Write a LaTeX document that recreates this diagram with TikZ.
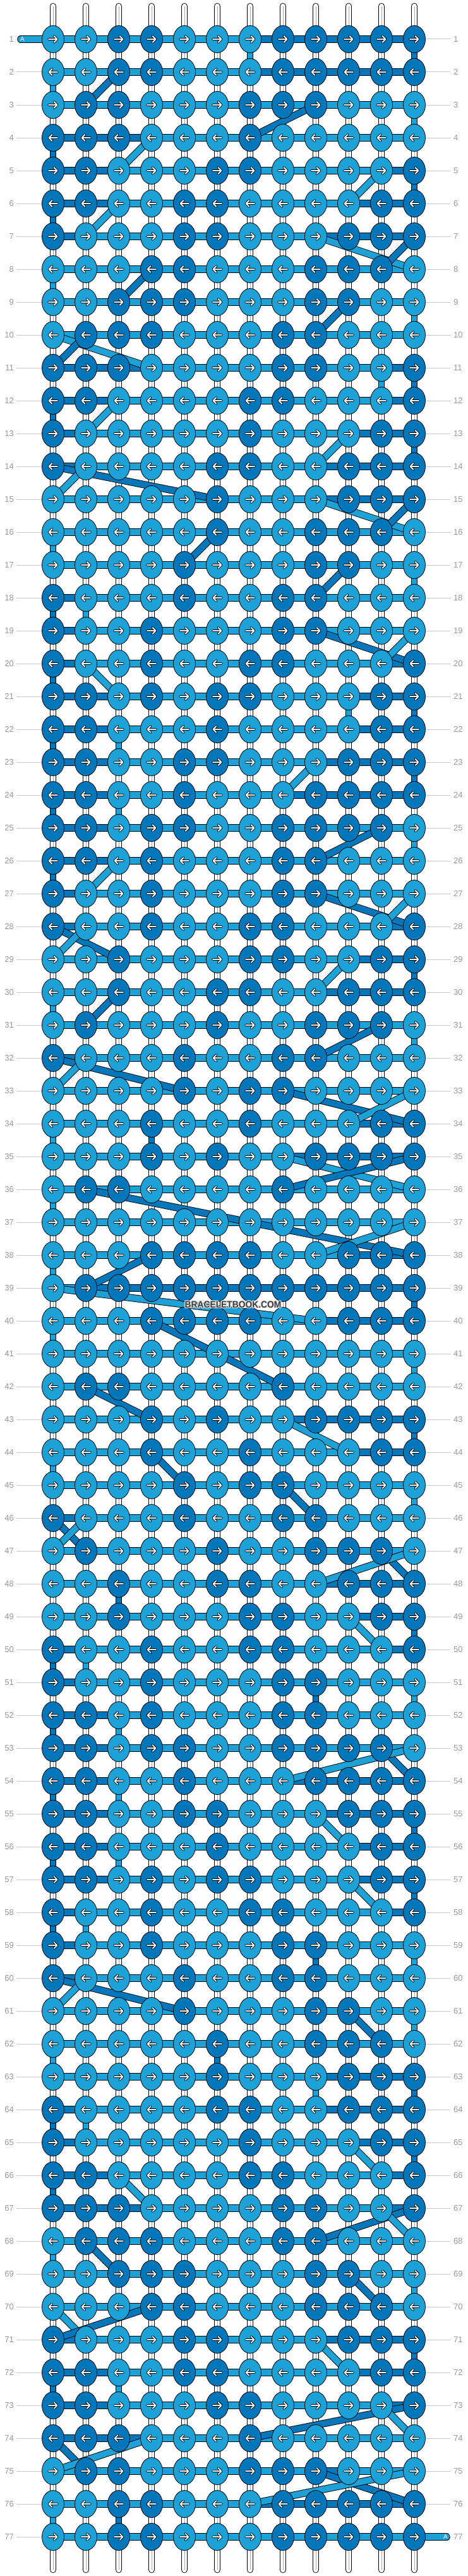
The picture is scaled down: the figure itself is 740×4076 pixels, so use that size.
\documentclass[tikz,border=0pt]{standalone}
\usepackage{fontspec}
\setmainfont{Liberation Sans}
\usetikzlibrary{shapes.geometric}
\definecolor{cL}{HTML}{1DA2D8}
\definecolor{cD}{HTML}{0077BB}
\definecolor{labgray}{HTML}{9A9A9A}
\definecolor{linegray}{HTML}{C8C8C8}
\definecolor{midgray}{HTML}{A8A8A8}
\definecolor{wmgray}{HTML}{3C3C3C}
\pgfdeclarelayer{bg}\pgfdeclarelayer{lv}\pgfdeclarelayer{lh}\pgfdeclarelayer{ld}\pgfdeclarelayer{front}
\pgfsetlayers{bg,lv,lh,ld,main,front}
\tikzset{
 knot/.style={ellipse, draw=black, line width=0.8pt, minimum width=35pt, minimum height=43pt, inner sep=0pt},
 arrb/.style={draw=black, line width=3.6pt, line cap=round, line join=round},
 arrw/.style={draw=white, line width=1.8pt, line cap=round, line join=round},
 vb/.style={draw=black, line width=10pt},
 vw/.style={draw=white, line width=8.2pt},
 vm/.style={draw=midgray, line width=0.6pt},
 vc/.style={line width=8.2pt},
 sb/.style={draw=black, line width=10.5pt, line cap=round},
 sw/.style={draw=white, line width=8.7pt, line cap=round},
 barb/.style={draw=black, line width=11.5pt},
 barc/.style={line width=9.7pt},
 diagb/.style={draw=black, line width=11.5pt},
 diagc/.style={line width=9.7pt},
 leadb/.style={draw=black, line width=11.5pt, line cap=round},
 leadc/.style={draw=cL, line width=9.7pt, line cap=round},
 lab/.style={text=labgray, font=\fontsize{13}{13}\selectfont, inner sep=0pt},
 labline/.style={draw=linegray, line width=1pt},
 wm/.style={font=\bfseries\fontsize{15}{15}\selectfont, xscale=0.92, inner sep=0pt},
}
\newcount\kcnt
\makeatletter
\def\placeknot#1#2#3{%
 \pgfmathsetmacro\kx{84+52*(#2-1)}%
 \pgfmathsetmacro\ky{62+52*(#1-1)}%
 \node[knot, fill=c#3] (k-#1-#2) at (\kx,\ky) {};%
 \ifodd#1\relax
  \draw[arrb,shift={(\kx,\ky)}] (-7,0)--(6,0) (1.5,-5)--(6.5,0)--(1.5,5);%
  \draw[arrw,shift={(\kx,\ky)}] (-7,0)--(6,0) (1.5,-5)--(6.5,0)--(1.5,5);%
 \else
  \draw[arrb,shift={(\kx,\ky)}] (7,0)--(-6,0) (-1.5,-5)--(-6.5,0)--(-1.5,5);%
  \draw[arrw,shift={(\kx,\ky)}] (7,0)--(-6,0) (-1.5,-5)--(-6.5,0)--(-1.5,5);%
 \fi}
\def\KnotRow#1#2{\kcnt=0 \@tfor\ch:=#2\do{\advance\kcnt by 1 \edef\tmp{\noexpand\placeknot{#1}{\the\kcnt}{\ch}}\tmp}}
\def\placebar#1#2#3#4{\draw[barb] (k-#1-#2.center)--(k-#1-#3.center);\draw[barc,draw=c#4] (k-#1-#2.center)--(k-#1-#3.center);}
\def\BarRow#1#2{\kcnt=0 \@tfor\ch:=#2\do{\advance\kcnt by 1 \edef\tmp{\noexpand\placebar{#1}{\the\kcnt}{\the\numexpr\kcnt+1\relax}{\ch}}\tmp}}
\def\placevert#1#2#3#4{\if#4W\draw[vb] (k-#1-#3.center)--(k-#2-#3.center);\draw[vw] (k-#1-#3.center)--(k-#2-#3.center);\draw[vm] (k-#1-#3.center)--(k-#2-#3.center);\else\draw[vb] (k-#1-#3.center)--(k-#2-#3.center);\draw[vc,draw=c#4] (k-#1-#3.center)--(k-#2-#3.center);\fi}
\def\VertRow#1#2{\kcnt=0 \@tfor\ch:=#2\do{\advance\kcnt by 1 \edef\tmp{\noexpand\placevert{#1}{\the\numexpr#1+1\relax}{\the\kcnt}{\ch}}\tmp}}
\def\BV#1#2#3{\begin{pgfonlayer}{lh}\BarRow{#1}{#2}\end{pgfonlayer}\begin{pgfonlayer}{lv}\VertRow{#1}{#3}\end{pgfonlayer}}
\def\Dg#1#2#3#4#5{\draw[diagb] (k-#1-#2.center)--(k-#3-#4.center);\draw[diagc,draw=c#5] (k-#1-#2.center)--(k-#3-#4.center);}
\def\Dgg#1#2#3#4#5#6#7{\draw[diagb,line join=round] (k-#1-#2.center)--(k-#3-#4.center)--(k-#5-#6.center);\draw[diagc,line join=round,draw=c#7] (k-#1-#2.center)--(k-#3-#4.center)--(k-#5-#6.center);}
\makeatother
\begin{document}
\begin{tikzpicture}[x=1pt,y=-1pt]
\useasboundingbox (0,0) rectangle (740,4076);
\begin{pgfonlayer}{bg}\fill[white] (0,0) rectangle (740,4076);\end{pgfonlayer}
% ---------------- knots ----------------
\KnotRow{1}{LLDDLLLDDDDD}
\KnotRow{2}{LLDDLLLDDDDD}
\KnotRow{3}{LDDLLLDDDLLL}
\KnotRow{4}{DDDLLLDLLLLL}
\KnotRow{5}{DDLLLDDLLLLD}
\KnotRow{6}{DDLLDDLLLLDD}
\KnotRow{7}{DLLLDDLLLDDD}
\KnotRow{8}{LLLDDLLLDDDL}
\KnotRow{9}{LLDDDLLLDDLL}
\KnotRow{10}{LDDDLLLDDLLL}
\KnotRow{11}{DDDLLLLDDLLD}
\KnotRow{12}{DDLLLLDDLLLD}
\KnotRow{13}{DLLLLLDLLLDD}
\KnotRow{14}{DLLLLDDLLDDD}
\KnotRow{15}{LLLLLDLLLDDD}
\KnotRow{16}{LLLLLDLLDDDL}
\KnotRow{17}{LLLLDLLLDDLL}
\KnotRow{18}{DLLLDLLDDLLL}
\KnotRow{19}{DLLDLLLDDLLL}
\KnotRow{20}{DLLDLLDDLLLD}
\KnotRow{21}{DDLDLDDLLLDD}
\KnotRow{22}{DDLLLDLLLLDD}
\KnotRow{23}{DDLLDDLLLDDD}
\KnotRow{24}{DDLLDLLLDDDD}
\KnotRow{25}{DDLDDLLDDDDL}
\KnotRow{26}{DDLDLLLDDLLL}
\KnotRow{27}{DLLDLLLDDLLL}
\KnotRow{28}{DLLDLLDDLLLD}
\KnotRow{29}{LLDLLLDDLLDD}
\KnotRow{30}{LLDLLDDLLDDD}
\KnotRow{31}{LDLLLDLLDDDL}
\KnotRow{32}{DLLLDLLDDLLL}
\KnotRow{33}{LLLLDLDDLLLL}
\KnotRow{34}{LLLDLLDLLLDD}
\KnotRow{35}{LLLDLDLLDDDD}
\KnotRow{36}{LDDLLLLDLLLL}
\KnotRow{37}{LLLLLLLLLLLL}
\KnotRow{38}{LLLDDDDLLDDD}
\KnotRow{39}{LDDDDDDDDDDD}
\KnotRow{40}{LLLDDDDLLDDD}
\KnotRow{41}{LLLLLLLLLLLL}
\KnotRow{42}{LDDLLLLDLLLL}
\KnotRow{43}{LLLDLDLLDDDD}
\KnotRow{44}{LLLDLLDLLLDD}
\KnotRow{45}{LLLLDLDDLLLL}
\KnotRow{46}{DLLLDLLDDLLL}
\KnotRow{47}{LDLLLDLLDDDL}
\KnotRow{48}{LLDLLDDLLDDD}
\KnotRow{49}{LLDLLLDDLLDD}
\KnotRow{50}{DLLDLLDDLLLD}
\KnotRow{51}{DLLDLLLDDLLL}
\KnotRow{52}{DDLDLLLDDLLL}
\KnotRow{53}{DDLDDLLDDDDL}
\KnotRow{54}{DDLLDLLLDDDD}
\KnotRow{55}{DDLLDDLLLDDD}
\KnotRow{56}{DDLLLDLLLLDD}
\KnotRow{57}{DDLDLDDLLLDD}
\KnotRow{58}{DLLDLLDDLLLD}
\KnotRow{59}{DLLDLLLDDLLL}
\KnotRow{60}{DLLLDLLDDLLL}
\KnotRow{61}{LLLLDLLLDDLL}
\KnotRow{62}{LLLLLDLLDDDL}
\KnotRow{63}{LLLLLDLLLDDD}
\KnotRow{64}{DLLLLDDLLDDD}
\KnotRow{65}{DLLLLLDLLLDD}
\KnotRow{66}{DDLLLLDDLLLD}
\KnotRow{67}{DDDLLLLDDLLD}
\KnotRow{68}{LDDDLLLDDLLL}
\KnotRow{69}{LLDDDLLLDDLL}
\KnotRow{70}{LLLDDLLLDDDL}
\KnotRow{71}{DLLLDDLLLDDD}
\KnotRow{72}{DDLLDDLLLLDD}
\KnotRow{73}{DDLLLDDLLLLD}
\KnotRow{74}{DDDLLLDLLLLL}
\KnotRow{75}{LDDLLLDDDLLL}
\KnotRow{76}{LLDDLLLDDDDD}
\KnotRow{77}{LLDDLLLDDDDD}
% ---------------- bars and vertical links ----------------
\BV{1}{LLLLLLDDDDD}{WWWWWWLWWWWD}
\BV{2}{LLLLLLDDDDD}{LWWWWWWWWWWW}
\BV{3}{LLLLLLLLLLL}{WWWWWWWWWWWL}
\BV{4}{DDDLLLLLLLL}{DWWWWWWWWWWW}
\BV{5}{DDLLLLLLLLD}{WWWWWWWWWWWD}
\BV{6}{DDLLLLLLLDD}{DWWWWWWWWWWW}
\BV{7}{DLLLLLLLDDD}{WWWWWWWWWWWW}
\BV{8}{LLLLLLLLLLL}{LWWWWWWWWWWW}
\BV{9}{LLLLLLLLLLL}{WWWWWWWWWWWL}
\BV{10}{LLLLLLLLLLL}{WWWWWWWWWWWW}
\BV{11}{DDDLLLLLLLD}{WWWWWWWWWWLD}
\BV{12}{DDLLLLLLLLD}{DWWWWWWWWWWW}
\BV{13}{DLLLLLLLLDD}{WWWWWWWWWWWD}
\BV{14}{DLLLLLLLDDD}{WWWWWWWWWWWW}
\BV{15}{LLLLLLLLDDD}{WWWWWWWWWWWW}
\BV{16}{LLLLLLLLLLL}{LWWWWWWWWWWW}
\BV{17}{LLLLLLLLLLL}{WWWWWWWWWWWL}
\BV{18}{DLLLLLLLLLL}{DLWWWWWWWWWW}
\BV{19}{DLLLLLLLLLL}{WWWWWWWWWWWW}
\BV{20}{DLLLLLLLLLD}{DWWWWWWWWWWW}
\BV{21}{DDLLLLLLLDD}{WWWWWWWWWLWD}
\BV{22}{DDLLLLLLLDD}{DWLWWWWWWWWW}
\BV{23}{DDLLLLLLDDD}{WWWWWWWWWWWD}
\BV{24}{DDLLLLLDDDD}{DWLWWWWWWWWW}
\BV{25}{DDLLLLLLLLL}{WWWWWWWWWWWL}
\BV{26}{DDLLLLLLLLL}{DWWWWWWWWWWW}
\BV{27}{DLLLLLLLLLL}{WWWWWWWWWWWW}
\BV{28}{DLLLLLLLLLD}{WWWWWWWWWWWW}
\BV{29}{LLLLLLLLLDD}{WWWWWWWWWWWD}
\BV{30}{LLLLLLLLDDD}{LWWWWWWWWWWW}
\BV{31}{LLLLLLLLLLL}{WWWWWWWWWWWL}
\BV{32}{DLLLLLLLLLL}{WWWWWWWWWWWW}
\BV{33}{LLLLLLLLLLL}{WWWWWWWWWWWW}
\BV{34}{LLLLLLLLLDD}{LWWDWWWWWWWW}
\BV{35}{LLLLLLLDDDD}{WWWWWWWWWWWW}
\BV{36}{LLLLLLLLLLL}{LWWWWWWWWWWW}
\BV{37}{LLLLLLLLLLL}{WWWWWWWWWWWW}
\BV{38}{LLLLLLLLLDD}{LWWWWWWWWWWW}
\BV{39}{LDDDDDDDDDD}{WWWWWWWWWWWD}
\BV{40}{LLLLLLLLDDD}{LWWWWWWWWWWW}
\BV{41}{LLLLLLLLLLL}{WWWWWWWWWWWL}
\BV{42}{LLLLLLLLLLL}{WWWWWWWWWWWW}
\BV{43}{LLLLLLLDDDD}{WWWWWWWWWWWD}
\BV{44}{LLLLLLLLLDD}{LWWWWWWWWWWW}
\BV{45}{LLLLLLLLLLL}{WWWWWWWWWWWL}
\BV{46}{DLLLLLLLLLL}{WWWWWWWWWWWW}
\BV{47}{LLLLLLLLLLL}{WWWWWWWWWWWW}
\BV{48}{LLLLLLLLDDD}{WWDWWWWWWWWW}
\BV{49}{LLLLLLLLLDD}{WWWWWWWWWWWD}
\BV{50}{DLLLLLLLLLD}{DLWWWWWWWWWW}
\BV{51}{DLLLLLLLLLL}{WWWWWWWWDWWL}
\BV{52}{DDLLLLLLLLL}{DWLWWWWWWWWW}
\BV{53}{DDLLLLLLLLL}{WWWWWWWWWWWW}
\BV{54}{DDLLLLLDDDD}{DWLWWWWWWWWW}
\BV{55}{DDLLLLLLDDD}{WWWWWWWWWWWD}
\BV{56}{DDLLLLLLLDD}{DWLWWWWWWWWW}
\BV{57}{DDLLLLLLLDD}{WWWWWWWWWWWD}
\BV{58}{DLLLLLLLLLD}{DLWWWWWWWWWW}
\BV{59}{DLLLLLLLLLL}{WWWWWWWWDWWL}
\BV{60}{DLLLLLLLLLL}{WWWWWWWWWWWW}
\BV{61}{LLLLLLLLLLL}{WWWWWWWWWWWL}
\BV{62}{LLLLLLLLLLL}{LWWWWDWWWWWW}
\BV{63}{LLLLLLLLDDD}{WWWWWWWWLWWD}
\BV{64}{DLLLLLLLDDD}{DLWWWWWWWWWW}
\BV{65}{DLLLLLLLLDD}{WWWWWWWWWWWD}
\BV{66}{DDLLLLLLLLD}{DWWWWWWWWWWW}
\BV{67}{DDDLLLLLLLD}{WWWWWWWWWWWW}
\BV{68}{LLLLLLLLLLL}{LWWWWWWWWWWW}
\BV{69}{LLLLLLLLLLL}{WWWWWWWWWWWL}
\BV{70}{LLLLLLLLLLL}{WWWWWWWWWWWW}
\BV{71}{DLLLLLLLDDD}{WWWWWWWWWWWD}
\BV{72}{DDLLLLLLLDD}{DWLWWWWWWWWW}
\BV{73}{DDLLLLLLLLD}{WWWWWWWWWWWW}
\BV{74}{DDDLLLLLLLL}{WWWWWWWWWWWW}
\BV{75}{LLLLLLLLDLL}{WWWWWWWWWWWW}
\BV{76}{LLLLLLDDDDD}{LWDWWWWWWWWW}
\BV{77}{LLLLLLLLLLL}{}
% ---------------- diagonal threads ----------------
\begin{pgfonlayer}{ld}
\Dg{2}{3}{3}{2}{D}
\Dg{3}{9}{4}{7}{D}
\Dg{4}{4}{5}{3}{L}
\Dg{5}{11}{6}{10}{L}
\Dg{6}{3}{7}{2}{L}
\Dg{7}{9}{8}{12}{L}
\Dg{7}{12}{8}{11}{D}
\Dg{8}{4}{9}{3}{D}
\Dg{9}{10}{10}{9}{D}
\Dg{10}{1}{11}{4}{L}
\Dg{10}{2}{11}{1}{D}
\Dg{12}{3}{13}{2}{L}
\Dg{13}{10}{14}{9}{L}
\Dg{14}{1}{15}{6}{D}
\Dg{14}{2}{15}{1}{L}
\Dg{15}{9}{16}{12}{L}
\Dg{15}{12}{16}{11}{D}
\Dg{16}{6}{17}{5}{D}
\Dg{17}{10}{18}{9}{D}
\Dg{19}{9}{20}{12}{D}
\Dg{19}{12}{20}{11}{L}
\Dg{20}{2}{21}{3}{L}
\Dg{23}{9}{24}{8}{L}
\Dg{25}{11}{26}{9}{D}
\Dg{26}{3}{27}{2}{L}
\Dg{27}{9}{28}{12}{D}
\Dg{27}{12}{28}{11}{L}
\Dg{28}{1}{29}{3}{D}
\Dg{28}{2}{29}{1}{L}
\Dg{29}{10}{30}{9}{L}
\Dg{30}{3}{31}{2}{D}
\Dg{31}{11}{32}{9}{D}
\Dg{32}{1}{33}{5}{D}
\Dg{32}{2}{33}{1}{L}
\Dg{33}{8}{34}{12}{D}
\Dg{33}{12}{34}{10}{L}
\Dg{35}{8}{36}{12}{L}
\Dg{35}{12}{36}{8}{D}
\Dgg{36}{2}{37}{7}{38}{12}{D}
\Dg{37}{12}{38}{9}{L}
\Dg{38}{4}{39}{2}{D}
\Dg{39}{1}{40}{9}{L}
\Dgg{40}{4}{41}{6}{42}{8}{D}
\Dg{42}{2}{43}{4}{D}
\Dg{43}{8}{44}{10}{L}
\Dg{44}{4}{45}{5}{D}
\Dg{45}{8}{46}{9}{D}
\Dg{46}{1}{47}{2}{D}
\Dg{46}{2}{47}{1}{L}
\Dg{47}{11}{48}{12}{D}
\Dg{47}{12}{48}{9}{L}
\Dg{49}{10}{50}{11}{L}
\Dg{53}{11}{54}{12}{D}
\Dg{53}{12}{54}{8}{L}
\Dg{55}{9}{56}{10}{L}
\Dg{57}{10}{58}{11}{L}
\Dg{60}{1}{61}{5}{D}
\Dg{60}{2}{61}{1}{L}
\Dg{61}{10}{62}{11}{D}
\Dg{65}{10}{66}{11}{L}
\Dg{66}{3}{67}{4}{L}
\Dg{67}{12}{68}{9}{D}
\Dg{67}{11}{68}{12}{L}
\Dg{68}{2}{69}{3}{D}
\Dg{69}{10}{70}{11}{D}
\Dg{70}{1}{71}{2}{L}
\Dg{70}{4}{71}{1}{D}
\Dg{71}{9}{72}{10}{L}
\Dg{73}{12}{74}{7}{D}
\Dg{73}{11}{74}{12}{L}
\Dg{74}{1}{75}{2}{D}
\Dg{74}{4}{75}{1}{L}
\Dg{75}{9}{76}{12}{D}
\Dg{75}{12}{76}{7}{L}
\end{pgfonlayer}
% ---------------- top and bottom strands ----------------
\begin{pgfonlayer}{lv}
\foreach \cI in {1,...,12}{
 \pgfmathsetmacro\xx{84+52*(\cI-1)}
 \coordinate (top-\cI) at (\xx,10);
 \coordinate (bot-\cI) at (\xx,4066);
 \draw[sb] (top-\cI)--(k-1-\cI.center);
 \draw[sw] (top-\cI)--(k-1-\cI.center);
 \draw[vm] (top-\cI)--(k-1-\cI.center);
 \draw[sb] (bot-\cI)--(k-77-\cI.center);
 \draw[sw] (bot-\cI)--(k-77-\cI.center);
 \draw[vm] (bot-\cI)--(k-77-\cI.center);
}
\end{pgfonlayer}
% ---------------- A thread ends ----------------
\begin{pgfonlayer}{lh}
\coordinate (leadA) at (33,62);
\coordinate (endA) at (707,4014);
\draw[leadb] (leadA)--(k-1-1.center);
\draw[leadc] (leadA)--(k-1-1.center);
\draw[leadb] (endA)--(k-77-12.center);
\draw[leadc] (endA)--(k-77-12.center);
\end{pgfonlayer}
\node[text=white, font=\fontsize{10}{10}\selectfont, inner sep=0pt] (a-start) at (35.5,62) {A};
\node[text=white, font=\fontsize{10}{10}\selectfont, inner sep=0pt] (a-end) at (705.5,4014) {A};
% ---------------- row labels ----------------
\foreach \rw in {1,...,77}{
 \pgfmathsetmacro\yy{62+52*(\rw-1)}
 \node[lab, anchor=east] (ll-\rw) at (22,\yy) {\rw};
 \node[lab, anchor=west] (lr-\rw) at (718,\yy) {\rw};
}
\foreach \rw in {2,...,77}{
 \pgfmathsetmacro\yy{62+52*(\rw-1)}
 \coordinate (la-\rw) at (26,\yy);
 \draw[labline] (la-\rw)--(k-\rw-1.west);
}
\foreach \rw in {1,...,76}{
 \pgfmathsetmacro\yy{62+52*(\rw-1)}
 \coordinate (lb-\rw) at (713,\yy);
 \draw[labline] (k-\rw-12.east)--(lb-\rw);
}
% ---------------- watermark ----------------
\begin{pgfonlayer}{front}
\foreach \dx/\dy [count=\hI] in {-1/0,1/0,0/-1,0/1,-1/-1,1/1,-1/1,1/-1}{
 \node[wm, text=white!80!gray] (wmh-\hI) at (369+\dx,2064+\dy) {BRACELETBOOK.COM};
}
\node[wm, text=wmgray] (wmark) at (369,2064) {BRACELETBOOK.COM};
\end{pgfonlayer}
\end{tikzpicture}
\end{document}
